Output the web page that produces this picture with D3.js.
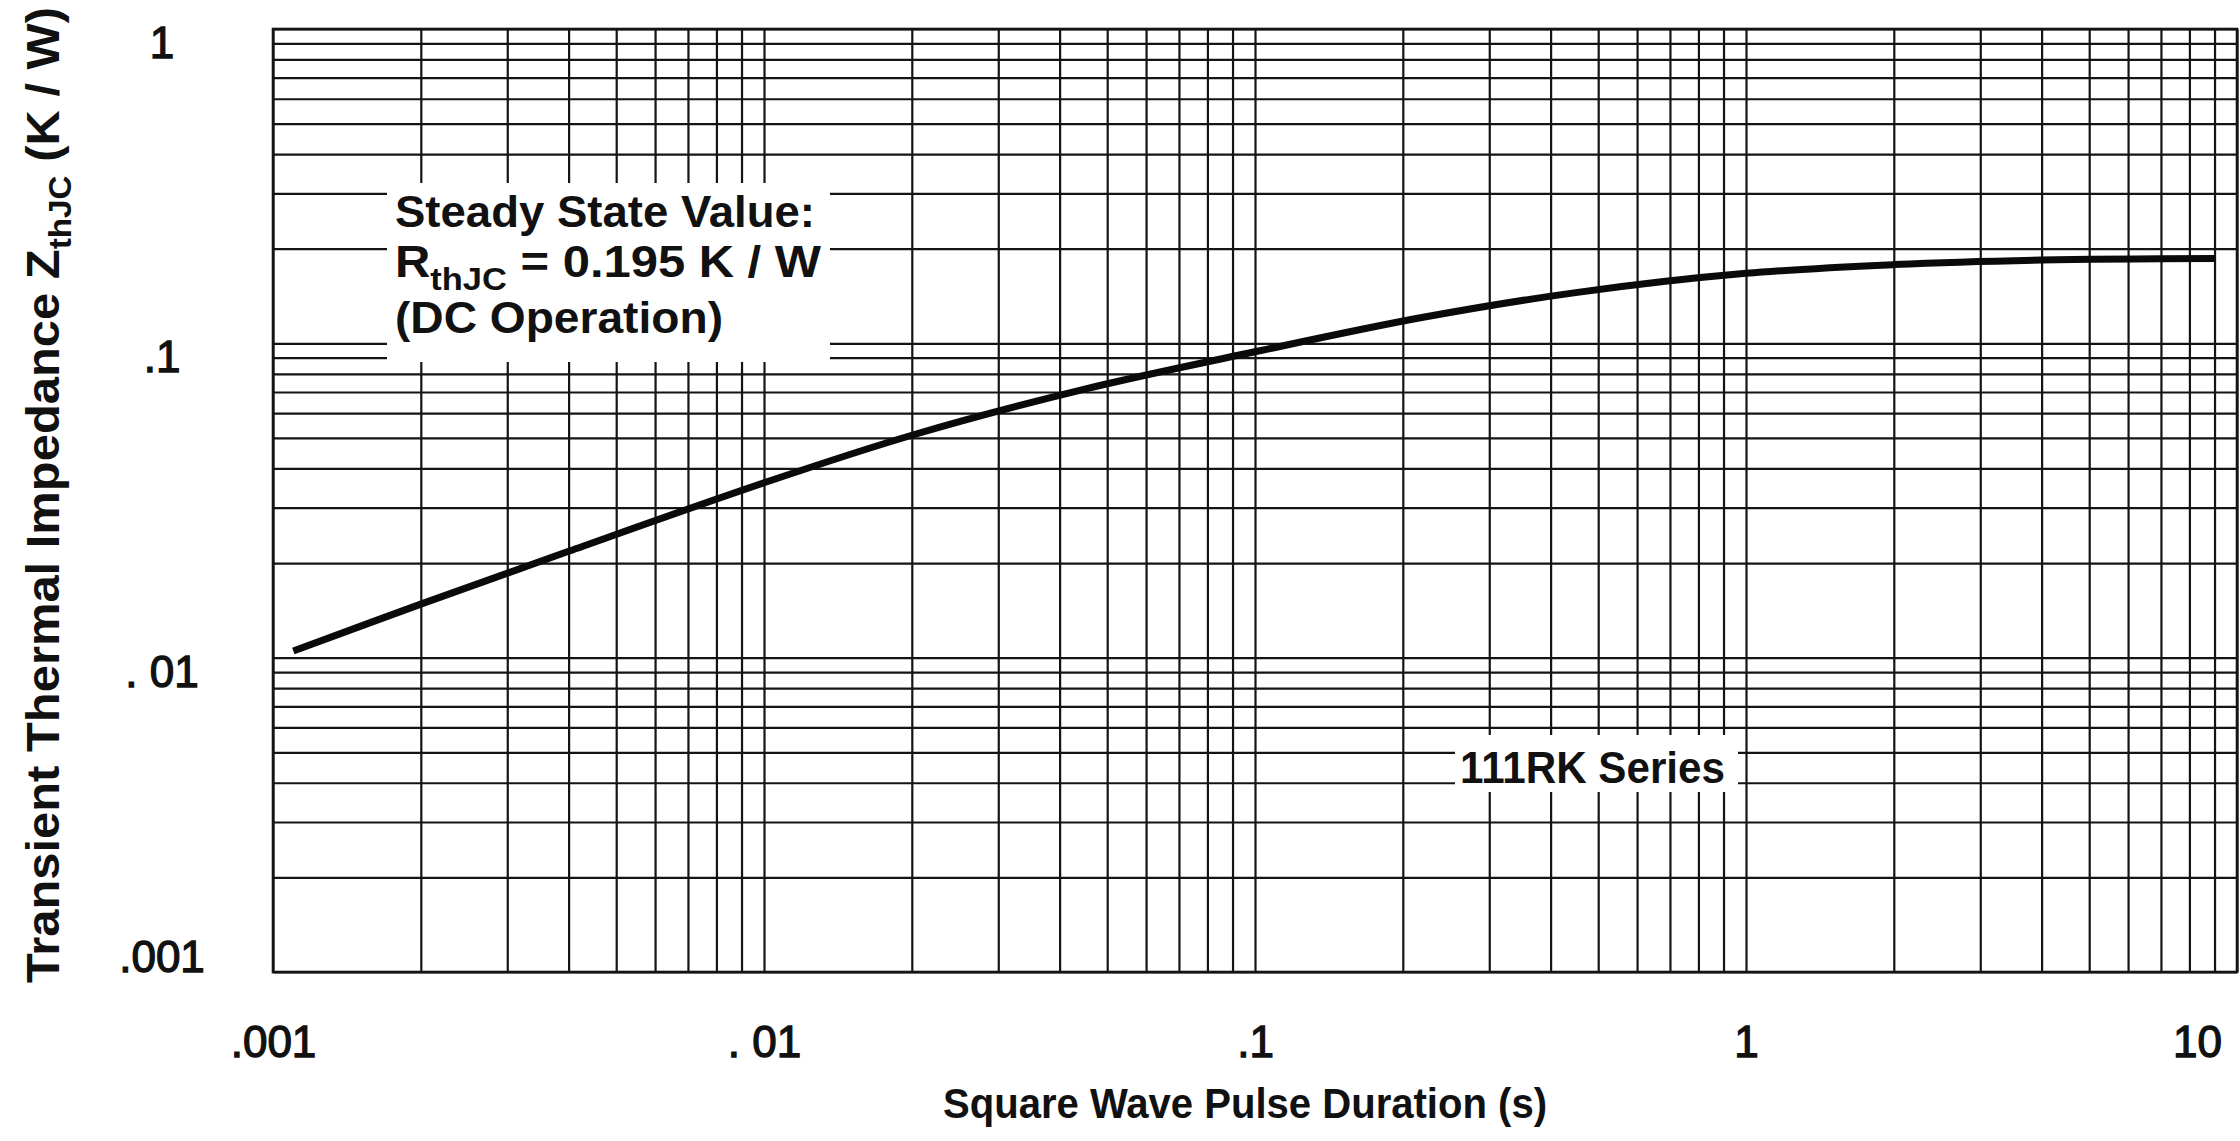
<!DOCTYPE html>
<html>
<head>
<meta charset="utf-8">
<script src="https://cdn.jsdelivr.net/npm/d3@7"></script>
<style>
  html, body { margin: 0; padding: 0; background: #fff; }
  svg { display: block; }
  text { font-family: "Liberation Sans", Arial, sans-serif; fill: #111; }
</style>
</head>
<body>
<svg id="chart" width="2240" height="1141"></svg>
<script>
// Transient thermal impedance Z_thJC versus square wave pulse duration (111RK series)
const pulseDuration = [0.0011, 0.002, 0.004, 0.01, 0.02, 0.045, 0.1, 0.22, 0.45, 1.0, 2.0, 4.0, 9.0];
const zthjc         = [0.0105, 0.0148, 0.0218, 0.0360, 0.0510, 0.0715, 0.0940, 0.1210, 0.1450, 0.1670, 0.1780, 0.1840, 0.1860];

const steadyStateRthjc = 0.195;

const xTickValues = [0.001, 0.01, 0.1, 1, 10];
const xTickLabels = [".001", ". 01", ".1", "1", "10"];
const yTickValues = [1, 0.1, 0.01, 0.001];
const yTickLabels = ["1", ".1", ". 01", ".001"];

const xTitle = "Square Wave Pulse Duration (s)";
const seriesLabel = "111RK Series";

// layout
const W = 2240, H = 1141;
const plot = { left: 273, right: 2237, top: 29, bottom: 972 };

const svg = d3.select("#chart");

const x = d3.scaleLog().domain([0.001, 10]).range([plot.left, plot.right]);
const y = d3.scaleLog().domain([0.001, 1]).range([plot.bottom, plot.top]);

// 1..9 per decade for the log grid
function decadeGrid(lo, hi) {
  const out = [];
  for (let e = Math.log10(lo); e < Math.log10(hi); e++) {
    for (let m = 1; m <= 9; m++) out.push(m * Math.pow(10, e));
  }
  out.push(hi);
  return out;
}
const xGrid = decadeGrid(0.001, 10);
const yGrid = decadeGrid(0.001, 1);

const gridColor = "#141414";

// vertical grid
const gx = svg.append("g")
  .attr("transform", `translate(0,${plot.bottom})`)
  .call(d3.axisBottom(x).tickValues(xGrid).tickFormat("").tickSize(-(plot.bottom - plot.top)).tickSizeOuter(0));
gx.select(".domain").remove();
gx.selectAll(".tick line").attr("stroke", gridColor).attr("stroke-width", 2.2);

// horizontal grid
const gy = svg.append("g")
  .attr("transform", `translate(${plot.left},0)`)
  .call(d3.axisLeft(y).tickValues(yGrid).tickFormat("").tickSize(-(plot.right - plot.left)).tickSizeOuter(0));
gy.select(".domain").remove();
gy.selectAll(".tick line").attr("stroke", gridColor).attr("stroke-width", 2.2);

// frame
svg.append("rect")
  .attr("x", plot.left).attr("y", plot.top)
  .attr("width", plot.right - plot.left).attr("height", plot.bottom - plot.top)
  .attr("fill", "none").attr("stroke", gridColor).attr("stroke-width", 2.6);

// curve
const line = d3.line()
  .x((d, i) => x(pulseDuration[i]))
  .y((d, i) => y(zthjc[i]))
  .curve(d3.curveCatmullRom.alpha(0.5));

svg.append("path")
  .datum(zthjc)
  .attr("d", line)
  .attr("fill", "none")
  .attr("stroke", "#0a0a0a")
  .attr("stroke-width", 7)
  .attr("stroke-linecap", "butt");

// tick label styling shared by both axes
function styleTickText(sel) {
  sel.attr("font-size", 44)
    .attr("font-weight", "normal")
    .attr("font-family", "Liberation Sans, Arial, sans-serif")
    .attr("fill", "#111")
    .attr("stroke", "#111")
    .attr("stroke-width", 1.3);
}

// x tick labels
const xAxisLabels = svg.append("g")
  .attr("transform", `translate(0,${plot.bottom})`)
  .call(d3.axisBottom(x).tickValues(xTickValues)
    .tickFormat((d, i) => xTickLabels[i]).tickSize(0).tickPadding(0));
xAxisLabels.select(".domain").remove();
xAxisLabels.selectAll(".tick text")
  .attr("y", 0)
  .attr("dy", 85)
  .attr("dx", d => (x(d) > W - 40 ? -40 : 0))
  .call(styleTickText);

// y tick labels
const yAxisLabels = svg.append("g")
  .attr("transform", "translate(162,0)")
  .call(d3.axisLeft(y).tickValues(yTickValues)
    .tickFormat((d, i) => yTickLabels[i]).tickSize(0).tickPadding(0));
yAxisLabels.select(".domain").remove();
yAxisLabels.selectAll(".tick").attr("transform", d => `translate(0,${Math.min(y(d) + 29, plot.bottom)})`);
yAxisLabels.selectAll(".tick text")
  .attr("x", 0).attr("dy", 0)
  .attr("text-anchor", "middle")
  .call(styleTickText);

// x title
svg.append("text")
  .attr("x", 1245).attr("y", 1118)
  .attr("text-anchor", "middle")
  .attr("font-size", 42)
  .attr("font-weight", "bold")
  .attr("textLength", 604)
  .attr("lengthAdjust", "spacingAndGlyphs")
  .text(xTitle);

// y title with subscript
const yTitle = svg.append("text")
  .attr("transform", "translate(59,495) rotate(-90)")
  .attr("text-anchor", "middle")
  .attr("font-size", 47)
  .attr("font-weight", "bold")
  .attr("textLength", 976)
  .attr("lengthAdjust", "spacingAndGlyphs");
yTitle.append("tspan").text("Transient Thermal Impedance Z");
yTitle.append("tspan").attr("font-size", 32).attr("dy", 12).text("thJC");
yTitle.append("tspan").attr("dy", -12).text(" (K / W)");

// steady state annotation on a white patch
const note = svg.append("g");
note.append("rect").attr("fill", "#fff")
  .attr("x", 387).attr("y", 183).attr("width", 443).attr("height", 179);
const noteText = note.append("g").attr("font-weight", "bold");
noteText.append("text")
  .attr("x", 395).attr("y", 227).attr("font-size", 44)
  .attr("textLength", 420).attr("lengthAdjust", "spacingAndGlyphs")
  .text("Steady State Value:");
const l2 = noteText.append("text")
  .attr("x", 395).attr("y", 277).attr("font-size", 44)
  .attr("textLength", 426).attr("lengthAdjust", "spacingAndGlyphs");
l2.append("tspan").text("R");
l2.append("tspan").attr("font-size", 31).attr("dy", 13).text("thJC");
l2.append("tspan").attr("dy", -13).text(` = ${steadyStateRthjc} K / W`);
noteText.append("text")
  .attr("x", 395).attr("y", 333).attr("font-size", 44)
  .attr("textLength", 328).attr("lengthAdjust", "spacingAndGlyphs")
  .text("(DC Operation)");

// series label on a white patch
svg.append("rect").attr("fill", "#fff")
  .attr("x", 1455).attr("y", 735).attr("width", 283).attr("height", 57);
svg.append("text")
  .attr("x", 1460).attr("y", 783)
  .attr("font-size", 45).attr("font-weight", "bold")
  .attr("textLength", 265).attr("lengthAdjust", "spacingAndGlyphs")
  .text(seriesLabel);
</script>
</body>
</html>
